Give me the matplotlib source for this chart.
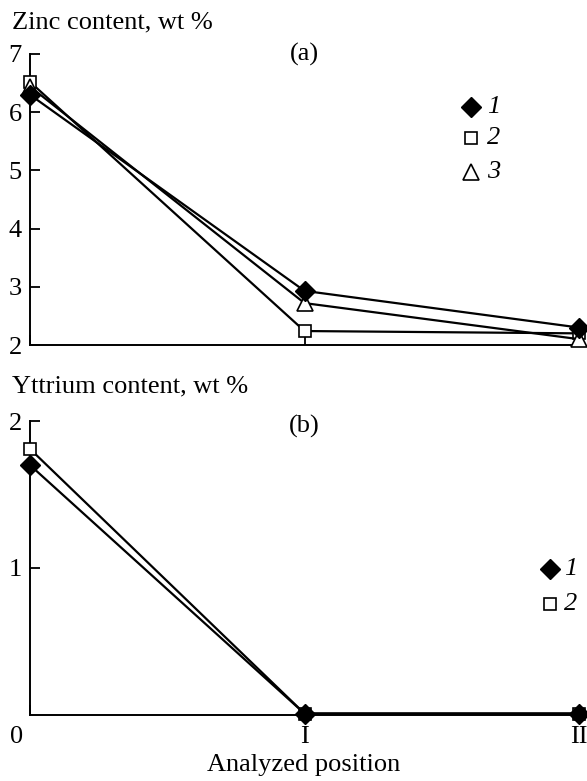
import matplotlib
matplotlib.use("Agg")
import matplotlib.pyplot as plt
from matplotlib.transforms import ScaledTranslation

plt.rcParams['font.family'] = ['Liberation Serif', 'DejaVu Serif']

# ---- data ----
positions = [0, 1, 2]
position_labels = ['0', 'I', 'II']

zinc_labels = ['1', '2', '3']
zinc_1 = [6.30, 2.93, 2.30]
zinc_2 = [6.52, 2.24, 2.20]
zinc_3 = [6.44, 2.72, 2.10]

yttrium_labels = ['1', '2']
yttrium_1 = [1.70, 0.01, 0.01]
yttrium_2 = [1.81, 0.01, 0.01]

zinc_ticks = [2, 3, 4, 5, 6, 7]
yttrium_ticks = [1, 2]

# ---- styles ----
styles = [
    dict(marker='D', markersize=10.5, markerfacecolor='black', markeredgecolor='black'),
    dict(marker='s', markersize=9, markerfacecolor='white', markeredgecolor='black', markeredgewidth=1.2),
    dict(marker='^', markersize=11, markerfacecolor='white', markeredgecolor='black', markeredgewidth=1.2),
]
zorders = [5, 3, 4]

FS = 19
W, H = 587, 781
fig = plt.figure(figsize=(W / 100, H / 100), dpi=100)

ax_a = fig.add_axes([30 / W, 1 - 345 / H, 549 / W, 291 / H])
ax_b = fig.add_axes([30 / W, 1 - 715 / H, 549 / W, 294 / H])


def style_axes(ax):
    for s in ('top', 'right'):
        ax.spines[s].set_visible(False)
    for s in ('left', 'bottom'):
        ax.spines[s].set_linewidth(1.4)
    ax.tick_params(direction='in', length=7, width=1.3, labelsize=FS)
    ax.tick_params(axis='y', pad=6)
    ax.tick_params(axis='x', pad=8)
    ax.set_xlim(0, 2)


# panel (a)
style_axes(ax_a)
for vals, st, z in zip([zinc_1, zinc_2, zinc_3], styles, zorders):
    ax_a.plot(positions, vals, color='black', lw=1.6, clip_on=False, zorder=z, **st)
ax_a.set_ylim(2, 7)
ax_a.set_yticks(zinc_ticks)
ax_a.set_xticks(positions)
ax_a.set_xticklabels([])
ax_a.text(0.5, 1.0, '(a)', transform=ax_a.transAxes, ha='center', va='center', fontsize=FS)

leg_y_a = [0.818, 0.711, 0.595]
for lab, st, yy in zip(zinc_labels, styles, leg_y_a):
    ax_a.plot([0.803], [yy], transform=ax_a.transAxes, linestyle='none', clip_on=False, **st)
    ax_a.text(0.832, yy, lab, transform=ax_a.transAxes, ha='left', va='center',
              fontsize=FS, style='italic')

# panel (b)
style_axes(ax_b)
for vals, st, z in zip([yttrium_1, yttrium_2], styles[:2], zorders[:2]):
    ax_b.plot(positions, vals, color='black', lw=1.6, clip_on=False, zorder=z, **st)
ax_b.set_ylim(0, 2)
ax_b.set_yticks(yttrium_ticks)
ax_b.set_xticks(positions)
ax_b.set_xticklabels(position_labels)
ax_b.text(0.5, 0.98, '(b)', transform=ax_b.transAxes, ha='center', va='center', fontsize=FS)
lbl0 = ax_b.get_xticklabels()[0]
lbl0.set_transform(lbl0.get_transform() + ScaledTranslation(-0.13, 0, fig.dpi_scale_trans))

leg_y_b = [0.497, 0.378]
for lab, st, yy in zip(yttrium_labels, styles[:2], leg_y_b):
    ax_b.plot([0.947], [yy], transform=ax_b.transAxes, linestyle='none', clip_on=False, **st)
    ax_b.text(0.972, yy, lab, transform=ax_b.transAxes, ha='left', va='center',
              fontsize=FS, style='italic')

# titles
fig.text(12 / W, 1 - 22 / H, 'Zinc content, wt %', ha='left', va='center', fontsize=FS)
fig.text(12 / W, 1 - 386 / H, 'Yttrium content, wt %', ha='left', va='center', fontsize=FS)
fig.text(304 / W, 1 - 765 / H, 'Analyzed position', ha='center', va='center', fontsize=FS)

fig.savefig('out.png', dpi=100)
